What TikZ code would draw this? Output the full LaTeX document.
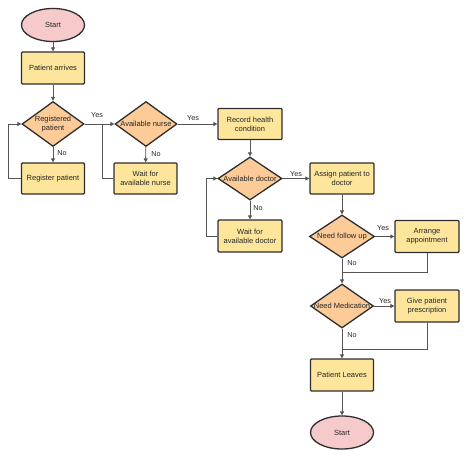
\documentclass[tikz,border=0pt]{standalone}
\usepackage{fontspec}
\setmainfont{Liberation Sans}
\usetikzlibrary{shapes.geometric,arrows.meta}
\definecolor{boxfill}{HTML}{FDE59C}
\definecolor{diafill}{HTML}{FCCB98}
\definecolor{ellfill}{HTML}{F6CACB}
\definecolor{border}{HTML}{2E2E2E}
\definecolor{conn}{HTML}{555555}
\definecolor{txt}{HTML}{262626}
\tikzset{
  base/.style={draw=border, line width=1.3pt, inner sep=0pt, text=txt, align=center,
    font=\fontsize{7.5}{8.7}\selectfont},
  stepbox/.style={base, rectangle, fill=boxfill, rounded corners=1pt},
  dia/.style={base, diamond, fill=diafill, aspect=1},
  term/.style={base, ellipse, fill=ellfill},
  diatext/.style={text=txt, align=center, inner sep=0pt, font=\fontsize{7.5}{8.7}\selectfont},
  lab/.style={text=txt, inner sep=0pt, font=\fontsize{7.2}{8}\selectfont},
  conline/.style={draw=conn, line width=0.9pt},
  arr/.style={conline, -{Triangle[length=4pt,width=4pt]}},
}
\begin{document}
\begin{tikzpicture}[x=1pt,y=-1pt]
\useasboundingbox[fill=white] (0,0) rectangle (474,457);
% nodes
\node[term, minimum width=63pt, minimum height=33pt] (start) at (53,25) {Start};
\node[stepbox, minimum width=63pt, minimum height=32pt] (arrive) at (53,68) {Patient arrives};
\node[dia, minimum width=62pt, minimum height=45pt] (reg) at (53,124) {};
\node[diatext] (regt) at (reg.center) {Registered\\patient};
\node[stepbox, minimum width=63pt, minimum height=31pt] (regp) at (53,178.5) {Register patient};
\node[dia, minimum width=62pt, minimum height=45pt] (nurse) at (146,124) {};
\node[diatext] (nurset) at (nurse.center) {Available nurse};
\node[stepbox, minimum width=63pt, minimum height=31pt] (waitn) at (145.5,178.5) {Wait for\\available nurse};
\node[stepbox, minimum width=64pt, minimum height=31pt] (record) at (250,124) {Record health\\condition};
\node[dia, minimum width=64pt, minimum height=43pt] (doc) at (250,178.5) {};
\node[diatext] (doct) at (doc.center) {Available doctor};
\node[stepbox, minimum width=64pt, minimum height=32pt] (waitd) at (250,236) {Wait for\\available doctor};
\node[stepbox, minimum width=64pt, minimum height=31pt] (assign) at (342,178.5) {Assign patient to\\doctor};
\node[dia, minimum width=65pt, minimum height=43pt] (follow) at (342,236.5) {};
\node[diatext] (followt) at (follow.center) {Need follow up};
\node[stepbox, minimum width=64pt, minimum height=32pt] (arrange) at (427,236.5) {Arrange\\appointment};
\node[dia, minimum width=63pt, minimum height=44pt] (med) at (342,306) {};
\node[diatext] (medt) at (med.center) {Need Medication};
\node[stepbox, minimum width=64pt, minimum height=32pt] (presc) at (427,306) {Give patient\\prescription};
\node[stepbox, minimum width=63pt, minimum height=32pt] (leaves) at (342,375) {Patient Leaves};
\node[term, minimum width=63pt, minimum height=33pt] (end) at (342,432.5) {Start};
% coordinates
\coordinate (c1) at (8,178.5);
\coordinate (c2) at (102,178.5);
\coordinate (c3) at (102,124);
\coordinate (c4) at (206,236);
\coordinate (c5) at (427,272);
\coordinate (c6) at (342,272);
\coordinate (c7) at (427,349);
\coordinate (c8) at (342,349);
% connectors
\draw[arr] (start) -- (arrive);
\draw[arr] (arrive) -- (reg);
\draw[arr] (reg) -- (regp);
\draw[arr] (regp.west) -- (c1) |- (reg.west);
\draw[arr] (reg.east) -- (nurse.west);
\draw[conline] (waitn.west) -- (c2) -- (c3);
\draw[arr] (nurse) -- (waitn);
\draw[arr] (nurse.east) -- (record.west);
\draw[arr] (record) -- (doc);
\draw[arr] (doc) -- (waitd);
\draw[arr] (waitd.west) -- (c4) |- (doc.west);
\draw[arr] (doc.east) -- (assign.west);
\draw[arr] (assign) -- (follow);
\draw[arr] (follow.east) -- (arrange.west);
\draw[arr] (follow) -- (med);
\draw[conline] (arrange.south) -- (c5) -- (c6);
\draw[arr] (med.east) -- (presc.west);
\draw[arr] (med) -- (leaves);
\draw[conline] (presc.south) -- (c7) -- (c8);
\draw[arr] (leaves) -- (end);
% labels
\node[lab] (l1) at (62,153.5) {No};
\node[lab] (l2) at (97,115.5) {Yes};
\node[lab] (l3) at (156,154.5) {No};
\node[lab] (l4) at (193,118) {Yes};
\node[lab] (l5) at (258,208) {No};
\node[lab] (l6) at (296,174) {Yes};
\node[lab] (l7) at (383,228.5) {Yes};
\node[lab] (l8) at (352,263.5) {No};
\node[lab] (l9) at (385,301.5) {Yes};
\node[lab] (l10) at (352,335) {No};
\end{tikzpicture}
\end{document}
